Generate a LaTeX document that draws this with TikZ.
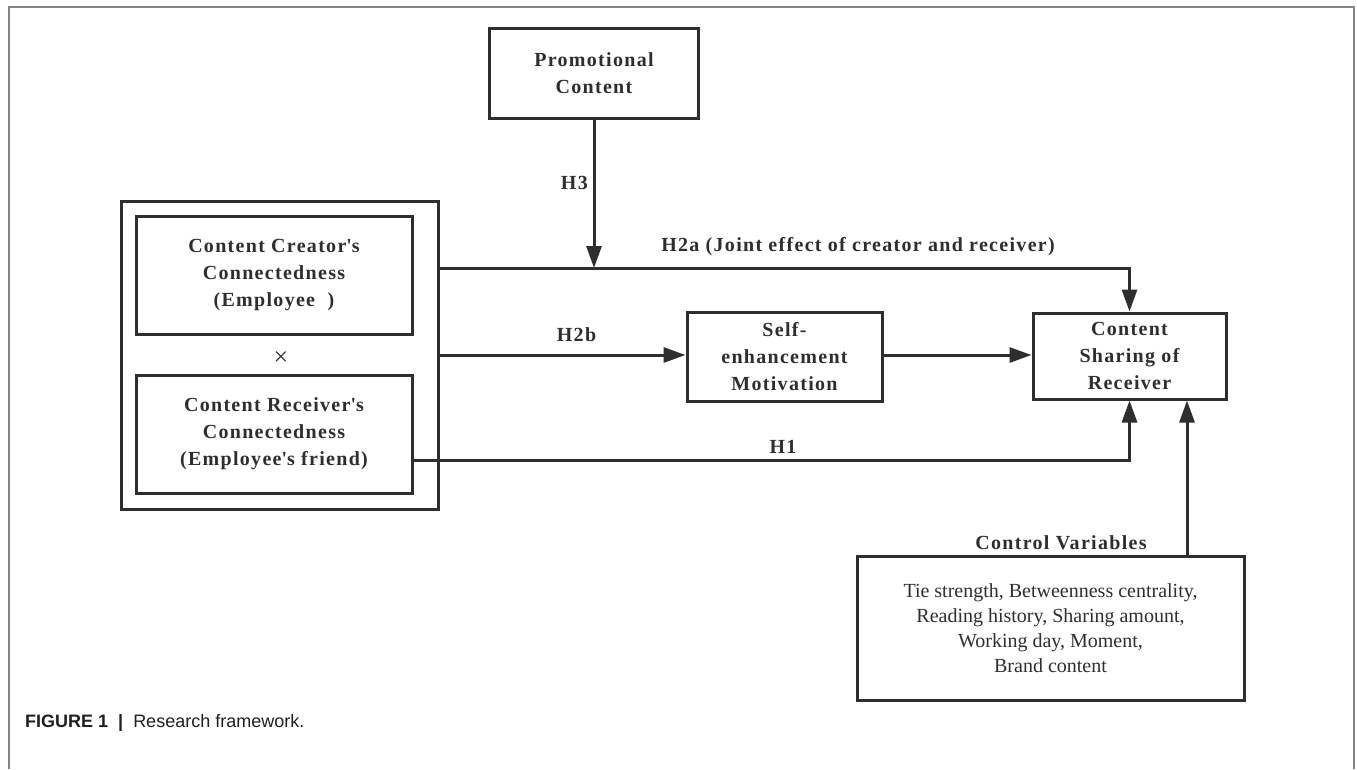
\documentclass[tikz,border=0pt]{standalone}
\usepackage{fontspec}
\setmainfont{Liberation Serif}
\newfontfamily\boxfont[LetterSpace=6.5]{Liberation Serif}
\newfontfamily\capfont{Liberation Sans}
\usetikzlibrary{arrows.meta,calc}
\definecolor{linec}{HTML}{2E2E2E}
\definecolor{textc}{HTML}{2E2E2E}
\definecolor{framec}{HTML}{858585}
\tikzset{
  box/.style={draw=linec, line width=3pt, inner sep=0pt, text=textc, align=center,
    font=\boxfont\bfseries\fontsize{20}{27}\selectfont},
  lbl/.style={inner sep=0pt, text=textc, font=\boxfont\bfseries\fontsize{20}{27}\selectfont},
  arr/.style={draw=linec, line width=3pt, -{Triangle[length=22pt,width=15pt]}},
}
\begin{document}
\begin{tikzpicture}[x=1pt,y=-1pt]
\useasboundingbox (0,0) rectangle (1357,769);
% outer frame
\draw[framec, line width=1.2pt] (9,769) -- (9,7) -- (1354,7) -- (1354,769);

% boxes
\node[box, minimum width=209, minimum height=90] (promo) at (594,73) {Promotional\\Content};
\node[box, minimum width=317, minimum height=308] (outer) at (279.5,355) {};
\node[box, minimum width=276, minimum height=118] (in1) at (274,275)
  {Content Creator\textquotesingle s\\Connectedness\\(Employee\ \ )};
\node[inner sep=0pt, text=textc, font=\fontsize{26}{28}\selectfont] (times) at (281,359) {×};
\node[box, minimum width=276, minimum height=118] (in2) at (274,434)
  {Content Receiver\textquotesingle s\\Connectedness\\(Employee\textquotesingle s friend)};
\node[box, minimum width=195, minimum height=89] (self) at (784.5,356.5)
  {Self-\\enhancement\\Motivation};
\node[box, minimum width=193, minimum height=86] (content) at (1129.5,356)
  {Content\\Sharing of\\Receiver};
\node[box, minimum width=387, minimum height=144, font=\fontsize{20}{25}\selectfont] (ctrl) at (1050.5,628)
  {Tie strength, Betweenness centrality,\\Reading history, Sharing amount,\\Working day, Moment,\\Brand content};

% labels
\node[lbl, anchor=base east] (lh3) at (588,189.6) {H3};
\node[lbl, anchor=base] (lh2a) at (858,251.6) {H2a (Joint effect of creator and receiver)};
\node[lbl, anchor=base] (lh2b) at (576.5,341.6) {H2b};
\node[lbl, anchor=base] (lh1) at (783,453.6) {H1};
\node[lbl, anchor=base] (lcv) at (1061,549.6) {Control Variables};

% helper coordinates
\coordinate (a2) at (1129.5,268);
\coordinate (c2) at (687,355);
\coordinate (b1) at (1129.5,460);
\coordinate (d1) at (1187,0);

% connectors
\draw[arr] (promo.south) -- (promo.south |- a2);
\draw[arr] (a2 -| outer.east) -- (a2) -- (content.north);
\draw[arr] (c2 -| outer.east) -- (c2 -| self.west);
\draw[arr] (c2 -| self.east) -- (c2 -| content.west);
\draw[arr] (b1 -| in2.east) -- (b1) -- (content.south);
\draw[arr] (d1 |- ctrl.north) -- (d1 |- content.south);

% caption
\node[anchor=base west, inner sep=0pt, text=black!88, font=\capfont\fontsize{18}{22}\selectfont] (cap) at (25,727)
  {\bfseries FIGURE 1\ \ |\ \ \mdseries Research framework.};
\end{tikzpicture}
\end{document}
